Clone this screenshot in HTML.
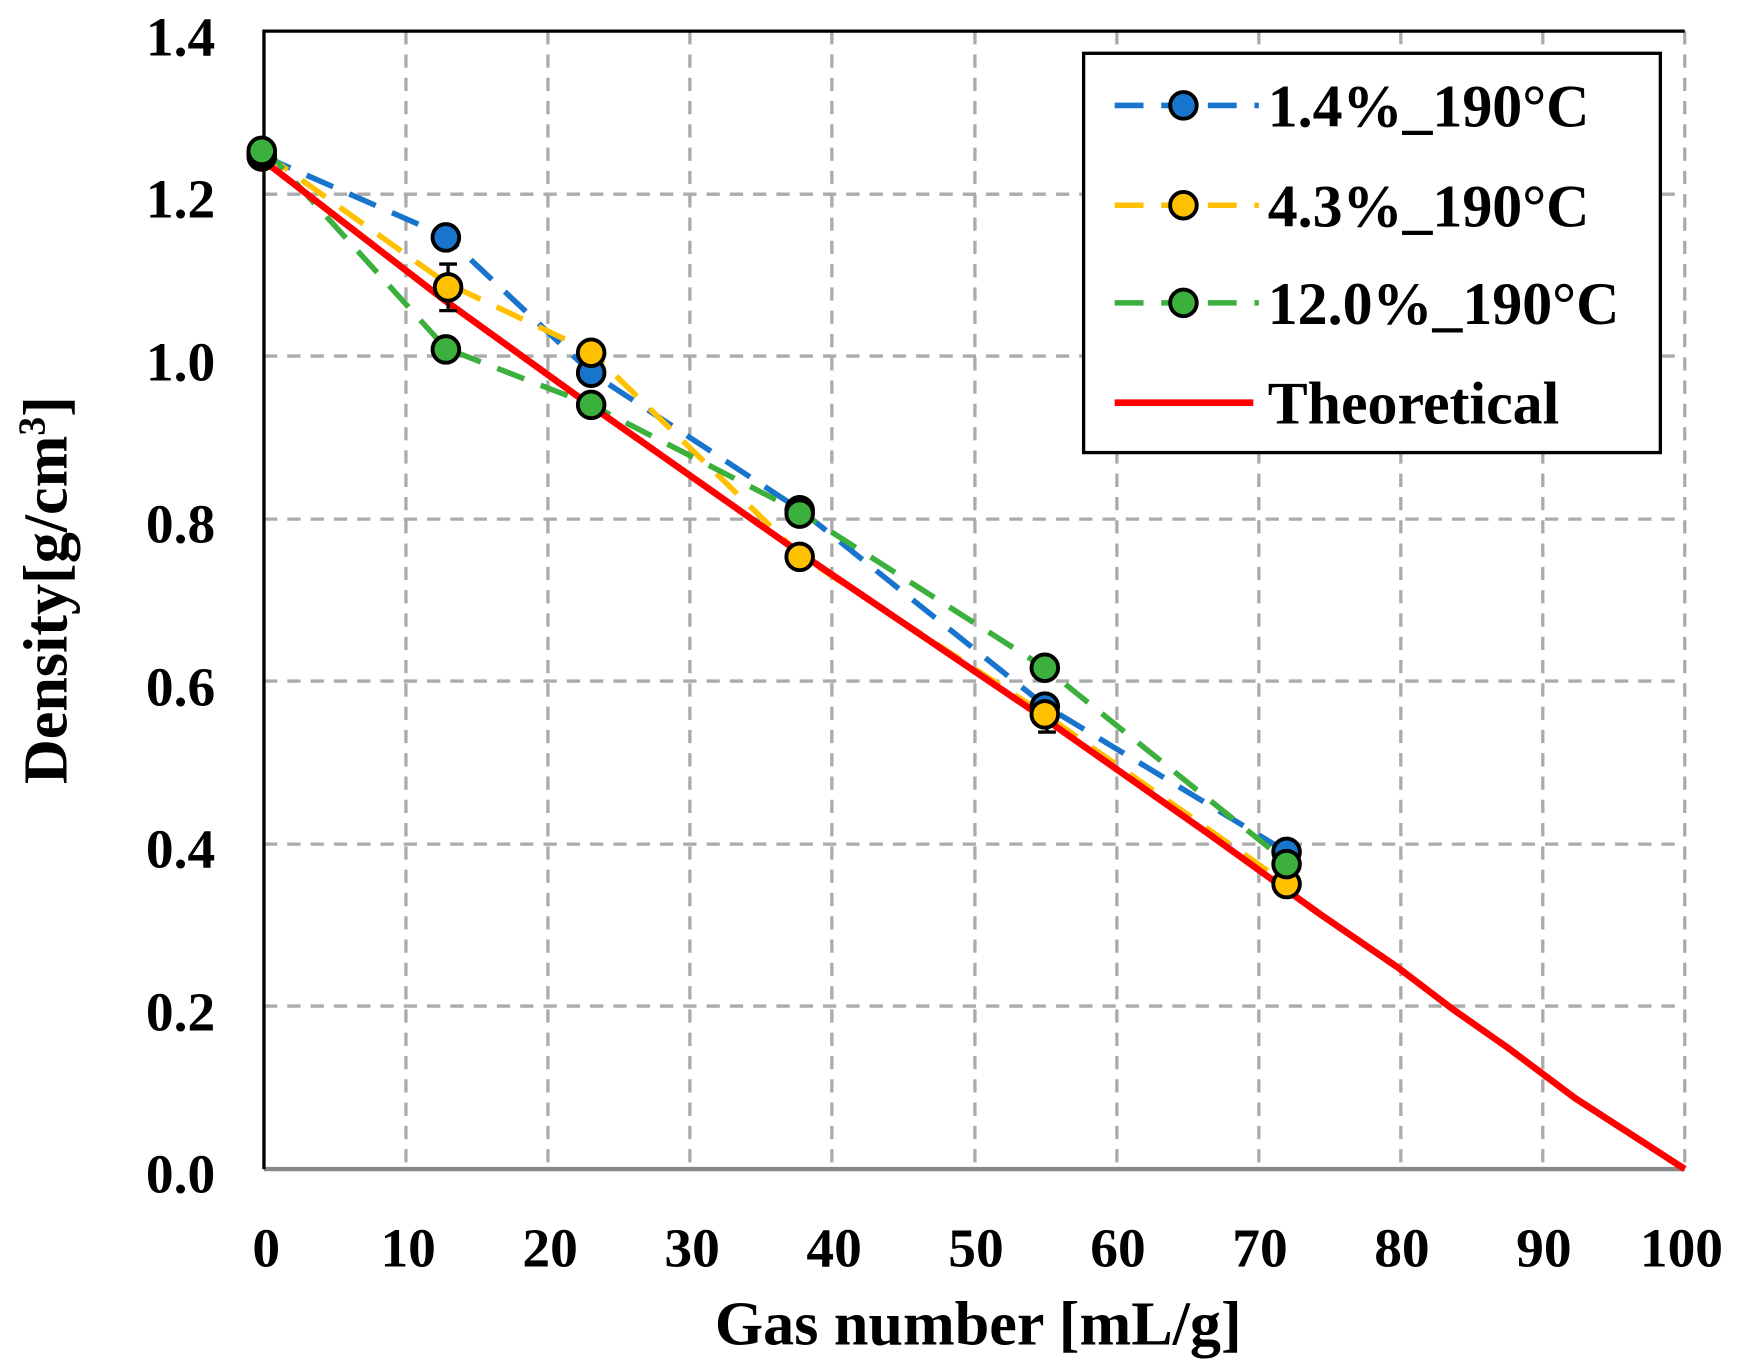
<!DOCTYPE html>
<html><head><meta charset="utf-8"><style>html,body{margin:0;padding:0;background:#fff}svg{display:block}</style></head>
<body>
<svg width="1738" height="1371" viewBox="0 0 1567 1236" xmlns="http://www.w3.org/2000/svg" font-family="Liberation Serif, serif" font-weight="bold">
<rect width="1567" height="1236" fill="#fff"/>
<g stroke="#ababab" stroke-width="3" stroke-dasharray="12,9" fill="none">
<path d="M366 28V1054M494 28V1054M622 28V1054M750 28V1054M879 28V1054M1007 28V1054M1135 28V1054M1263 28V1054M1391 28V1054M1519 28V1054"/>
<path d="M238 175H1519M238 321H1519M238 468H1519M238 614H1519M238 761H1519M238 907H1519"/>
</g>
<path d="M238 1054H1519" stroke="#888" stroke-width="4"/>
<path d="M238 1054V28H1519" stroke="#000" stroke-width="3" fill="none"/>
<g font-size="50" text-anchor="end" fill="#000">
<text x="194" y="50">1.4</text><text x="194" y="196">1.2</text><text x="194" y="343">1.0</text><text x="194" y="489">0.8</text><text x="194" y="636">0.6</text><text x="194" y="782">0.4</text><text x="194" y="929">0.2</text><text x="194" y="1075">0.0</text>
</g>
<g font-size="50" text-anchor="middle" fill="#000">
<text x="240" y="1142">0</text><text x="368" y="1142">10</text><text x="496" y="1142">20</text><text x="624" y="1142">30</text><text x="752" y="1142">40</text><text x="880" y="1142">50</text><text x="1008" y="1142">60</text><text x="1136" y="1142">70</text><text x="1264" y="1142">80</text><text x="1392" y="1142">90</text><text x="1516" y="1142">100</text>
<text x="882" y="1212" font-size="56">Gas number  [mL/g]</text>
<text transform="translate(60,532) rotate(-90)" font-size="56">Density[g/cm<tspan font-size="34" dy="-20">3</tspan><tspan dy="20">]</tspan></text>
</g>
<g fill="none" stroke-width="5" stroke-dasharray="26,16">
<polyline stroke="#1874cd" points="238,141 402,213 533,336 722,460 942,636 1160,768"/>
<polyline stroke="#ffc000" points="238,138 402,255 533,317 722,501 942,644 1160,797"/>
<polyline stroke="#3cb03c" points="238,133 402,314 533,365 722,462 942,602 1160,777"/>
</g>
<polyline fill="none" stroke="#f00" stroke-width="6" points="238,145 400,270 533,366 722,499 942,648 1090,752 1190,824 1260,872 1310,910 1360,945 1420,990 1519,1054"/>
<g stroke="#000" stroke-width="3"><path d="M404 238V280M396 238H412M396 280H412M944 630V660M936 660H952"/></g>
<g stroke="#000" stroke-width="3.5">
<g fill="#1874cd"><circle cx="236" cy="141" r="12"/><circle cx="402" cy="214" r="12"/><circle cx="533" cy="336" r="12"/><circle cx="721" cy="460" r="12"/><circle cx="942" cy="637" r="12"/><circle cx="1160" cy="768" r="12"/></g>
<g fill="#ffc000"><circle cx="236" cy="139" r="12"/><circle cx="404" cy="259" r="12"/><circle cx="533" cy="318" r="12"/><circle cx="721" cy="502" r="12"/><circle cx="942" cy="644" r="12"/><circle cx="1160" cy="797" r="12"/></g>
<g fill="#3cb03c"><circle cx="236" cy="136" r="12"/><circle cx="402" cy="315" r="12"/><circle cx="533" cy="365" r="12"/><circle cx="721" cy="463" r="12"/><circle cx="942" cy="602" r="12"/><circle cx="1160" cy="779" r="12"/></g>
</g>
<rect x="977" y="48" width="520" height="360" fill="#fff" stroke="#000" stroke-width="3"/>
<g stroke-width="5" stroke-dasharray="26,16"><path d="M1005 95H1135" stroke="#1874cd"/><path d="M1005 185H1135" stroke="#ffc000"/><path d="M1005 273H1135" stroke="#3cb03c"/></g>
<path d="M1005 363H1130" stroke="#f00" stroke-width="6"/>
<g stroke="#000" stroke-width="3.5"><circle cx="1067" cy="95" r="12" fill="#1874cd"/><circle cx="1067" cy="185" r="12" fill="#ffc000"/><circle cx="1067" cy="273" r="12" fill="#3cb03c"/></g>
<g font-size="54" fill="#000"><text x="1143" y="114">1.4%_190°C</text><text x="1143" y="204">4.3%_190°C</text><text x="1143" y="292">12.0%_190°C</text><text x="1143" y="382">Theoretical</text></g>
</svg>
</body></html>
